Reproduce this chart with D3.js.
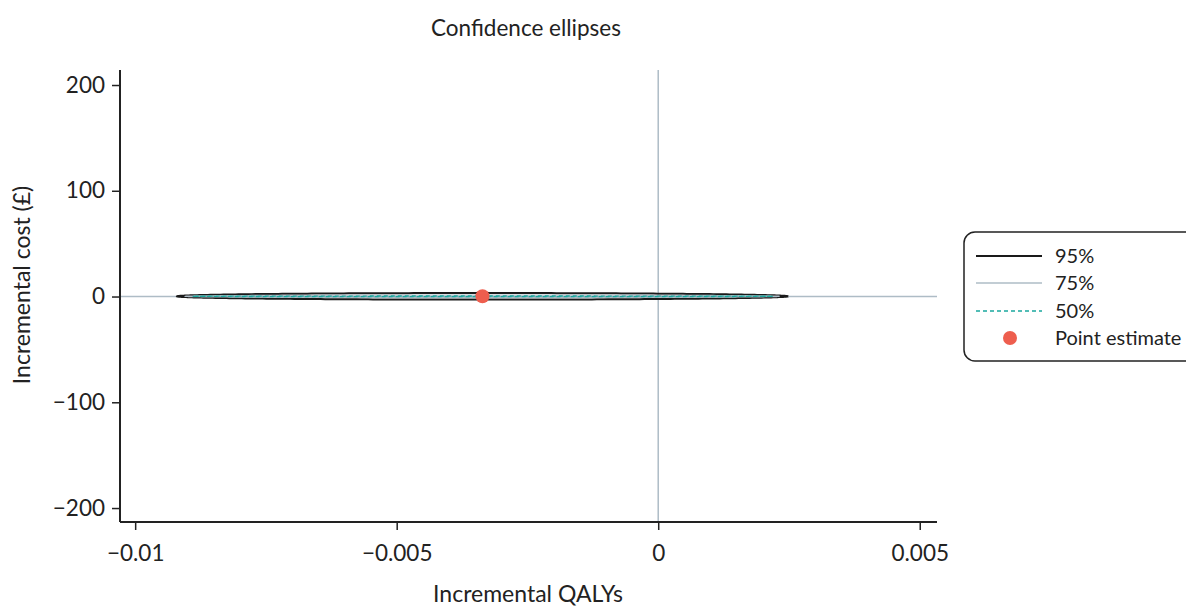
<!DOCTYPE html>
<meta charset="utf-8">
<html>
<body style="margin:0; background-color: white;">
<script src="https://d3js.org/d3.v7.min.js"></script>
<div id="chart"></div>
<script>
  // values
  var xTicks = [-0.01, -0.005, 0, 0.005];
  var yTicks = [200, 100, 0, -100, -200];
  var levels = ["95%", "75%", "50%"];
  var centreQaly = -0.00336;
  var centreCost = 0.2;
  var halfWidthQaly = [0.00584, 0.00568, 0.00555];   // semi-axis along x, per level
  var halfHeightCost = [3.1, 1.2, 0.3];              // semi-axis along y, per level
  var levelColors = ["#1a1a1a", "#aebcc6", "#1aa89f"];

  var W = 1186, H = 608;
  var svg = d3.select("#chart").append("svg")
    .attr("width", W).attr("height", H)
    .style("font-family", "Lato, sans-serif");

  var x = d3.scaleLinear().domain([-0.01029, 0.00533]).range([120, 937]);
  var y = d3.scaleLinear().domain([-213.2, 214.2]).range([522, 70]);

  // reference lines at zero
  svg.append("line")
    .attr("x1", x(0)).attr("x2", x(0)).attr("y1", 70).attr("y2", 522)
    .attr("stroke", "#aebcc6").attr("stroke-width", 1.5);
  svg.append("line")
    .attr("x1", 120).attr("x2", 937).attr("y1", y(0)).attr("y2", y(0))
    .attr("stroke", "#aebcc6").attr("stroke-width", 1.5);

  // ellipses
  var line = d3.line().x(function(d){ return x(d[0]); }).y(function(d){ return y(d[1]); });
  levels.forEach(function(lv, i) {
    var pts = d3.range(0, 361, 1).map(function(a) {
      var t = a * Math.PI / 180;
      return [centreQaly + halfWidthQaly[i] * Math.cos(t), centreCost + halfHeightCost[i] * Math.sin(t)];
    });
    svg.append("path")
      .attr("d", line(pts))
      .attr("fill", "none")
      .attr("stroke", levelColors[i])
      .attr("stroke-width", i == 0 ? 2 : 1.3)
      .attr("stroke-dasharray", i == 2 ? "4,3" : null);
  });

  // point estimate
  svg.append("circle")
    .attr("cx", x(centreQaly)).attr("cy", y(centreCost)).attr("r", 7)
    .attr("fill", "#ee5e4e");

  // axes
  var xAxis = svg.append("g")
    .attr("transform", "translate(0,522)")
    .call(d3.axisBottom(x).tickValues(xTicks).tickSize(8).tickPadding(15)
      .tickFormat(function(d){ return d == 0 ? "0" : String(d).replace("-", "\u2212"); }));
  var yAxis = svg.append("g")
    .attr("transform", "translate(120,0)")
    .call(d3.axisLeft(y).tickValues(yTicks).tickSize(8).tickPadding(7)
      .tickFormat(function(d){ return String(d).replace("-", "\u2212"); }));
  [xAxis, yAxis].forEach(function(g) {
    g.select(".domain").attr("stroke", "#222").attr("stroke-width", 2);
    g.selectAll(".tick line").attr("stroke", "#222").attr("stroke-width", 1.5);
    g.selectAll(".tick text").attr("font-size", "22.5px").attr("fill", "#222")
      .style("font-family", "Lato, sans-serif");
  });
  xAxis.select(".domain").attr("d", "M120,0H937");
  yAxis.select(".domain").attr("d", "M0,70V522");

  // titles
  svg.append("text").attr("x", 526).attr("y", 36).attr("text-anchor", "middle")
    .attr("font-size", "22.5px").attr("fill", "#222").text("Confidence ellipses");
  svg.append("text").attr("x", 528).attr("y", 602).attr("text-anchor", "middle")
    .attr("font-size", "23px").attr("fill", "#222").text("Incremental QALYs");
  svg.append("text").attr("transform", "translate(30,285) rotate(-90)").attr("text-anchor", "middle")
    .attr("font-size", "23px").attr("fill", "#222").text("Incremental cost (\u00a3)");

  // legend
  var lg = svg.append("g");
  lg.append("rect").attr("x", 964).attr("y", 232).attr("width", 240).attr("height", 129)
    .attr("rx", 11).attr("fill", "white").attr("stroke", "#222").attr("stroke-width", 1.5);
  var rowY = [256, 283, 311, 338];
  levels.forEach(function(lv, i) {
    lg.append("line").attr("x1", 976).attr("x2", 1042).attr("y1", rowY[i]).attr("y2", rowY[i])
      .attr("stroke", levelColors[i]).attr("stroke-width", i == 0 ? 2 : 1.5)
      .attr("stroke-dasharray", i == 2 ? "4,3" : null);
    lg.append("text").attr("x", 1055).attr("y", rowY[i] + 7).attr("font-size", "20px")
      .attr("fill", "#222").text(lv);
  });
  lg.append("circle").attr("cx", 1010).attr("cy", rowY[3]).attr("r", 7).attr("fill", "#ee5e4e");
  lg.append("text").attr("x", 1055).attr("y", rowY[3] + 7).attr("font-size", "20px")
    .attr("fill", "#222").text("Point estimate");
</script>
</body>
</html>
